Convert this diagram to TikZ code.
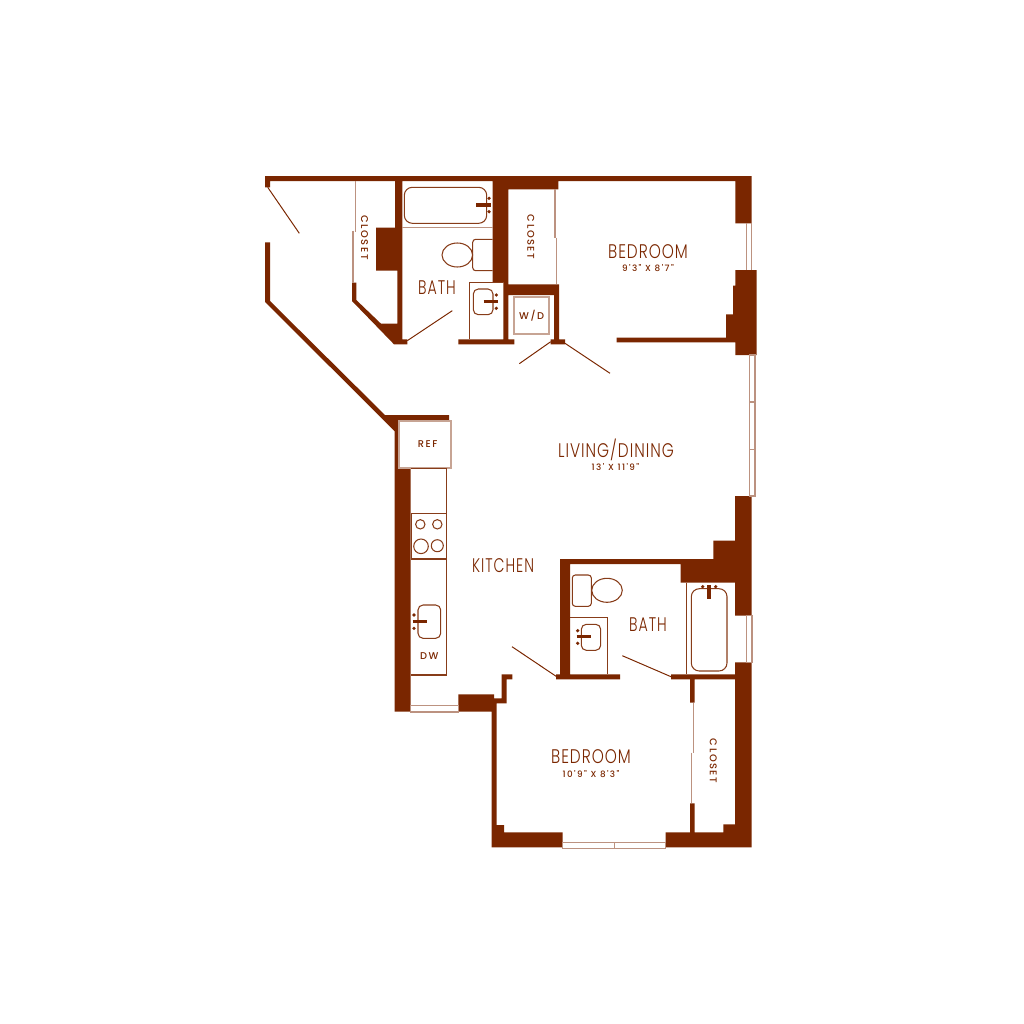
\documentclass[tikz,border=0pt]{standalone}
\usepackage{fontspec}
\newfontfamily\planfont[UprightFont=* Light,FakeStretch=0.78,LetterSpace=5]{Poppins}
\newfontfamily\narrowfont[UprightFont=* Light,FakeStretch=0.72,LetterSpace=5]{Poppins}
\newfontfamily\smallfont[UprightFont=* Medium,LetterSpace=16]{Poppins}
\definecolor{wallcolor}{HTML}{7A2600}
\tikzset{
  wall/.style={fill=wallcolor,draw=none},
  fixture/.style={draw=wallcolor!90,line width=0.3pt},
  pale/.style={draw=wallcolor!50,line width=0.42pt},
  door/.style={draw=wallcolor,line width=0.28pt},
  tap/.style={draw=wallcolor,line width=0.9pt},
  knob/.style={fill=wallcolor,draw=none,radius=1.8},
  roomlabel/.style={text=wallcolor,inner sep=0pt,font=\planfont\fontsize{5.6}{6}\selectfont},
  narrowlabel/.style={text=wallcolor,inner sep=0pt,font=\narrowfont\fontsize{5.6}{6}\selectfont},
  sizelabel/.style={text=wallcolor,inner sep=0pt,font=\smallfont\fontsize{2.5}{3}\selectfont},
  tinylabel/.style={text=wallcolor,inner sep=0pt,font=\smallfont\fontsize{2.8}{3}\selectfont},
}
\begin{document}
\begin{tikzpicture}[x=0.01cm,y=-0.01cm]
  \useasboundingbox (0,0) rectangle (1024,1024);
  % walls
  \fill[wall] (265,176) -- (751.7,176) -- (751.7,223.3) -- (735.3,223.3) -- (735.3,181) -- (558.3,181) -- (558.3,189.3) -- (508.3,189.3) -- (508.3,284.3) -- (559,284.3) -- (559,339.3) -- (565,339.3) -- (565,344.3) -- (550.7,344.3) -- (550.7,339.3) -- (554,339.3) -- (554,295) -- (508.3,295) -- (508.3,339.3) -- (514.3,339.3) -- (514.3,344.3) -- (458.3,344.3) -- (458.3,339.3) -- (503.3,339.3) -- (503.3,282.3) -- (492.7,282.3) -- (492.7,181) -- (402.3,181) -- (402.3,339.3) -- (407.3,339.3) -- (407.3,344.3) -- (394,344.3) -- (352,301) -- (352,282.7) -- (356.3,282.7) -- (356.3,300) -- (381,323.7) -- (397.3,323.7) -- (397.3,270.7) -- (376,270.7) -- (376,227.7) -- (395,227.7) -- (395,181) -- (270,181) -- (270,187.3) -- (265,187.3) -- cycle;
  % bedroom wall and pier
  \fill[wall] (735.3,270) -- (756.7,270) -- (756.7,355) -- (735.3,355) -- (735.3,342.3) -- (616.7,342.3) -- (616.7,337.7) -- (726,337.7) -- (726,314.3) -- (733,314.3) -- (733,285.7) -- (735.3,285.7) -- cycle;
  % diagonal and kitchen wall
  \fill[wall] (265,242.3) -- (270,242.3) -- (270,301) -- (385,415) -- (449,415) -- (449,420.7) -- (399.3,420.7) -- (399.3,468.3) -- (410.5,468.3) -- (410.5,711.7) -- (394.5,711.7) -- (394.5,431) -- (265,302) -- cycle;
  % lower bath and right wall
  \fill[wall] (560,559) -- (713.3,559) -- (713.3,540.7) -- (735,540.7) -- (735,496) -- (751.7,496) -- (751.7,615.7) -- (735,615.7) -- (735,582.7) -- (680.7,582.7) -- (680.7,564) -- (570,564) -- (570,674.3) -- (620,674.3) -- (620,679.3) -- (556,679.3) -- (556,674.3) -- (560,674.3) -- cycle;
  \fill[wall] (671,674.3) -- (735,674.3) -- (735,662.3) -- (751.7,662.3) -- (751.7,847.3) -- (665.7,847.3) -- (665.7,832.3) -- (690,832.3) -- (690,803.3) -- (694.7,803.3) -- (694.7,832.3) -- (723.3,832.3) -- (723.3,824.3) -- (735,824.3) -- (735,679.3) -- (694.7,679.3) -- (694.7,702.7) -- (690,702.7) -- (690,679.3) -- (671,679.3) -- cycle;
  % lower bedroom
  \fill[wall] (458.3,694.3) -- (494,694.3) -- (494,698.3) -- (501.7,698.3) -- (501.7,674.3) -- (512.3,674.3) -- (512.3,679.3) -- (506.7,679.3) -- (506.7,703.3) -- (496.5,703.3) -- (496.5,825) -- (504,825) -- (504,832.3) -- (562.7,832.3) -- (562.7,847.3) -- (491.7,847.3) -- (491.7,711.7) -- (458.3,711.7) -- cycle;
  % windows
  \draw[pale] (746.7,223.3) -- (746.7,270) (751.7,223.3) -- (751.7,270);
  \draw[pale] (749.3,355) rectangle (755,496) (749.3,402) -- (755,402) (749.3,449.3) -- (755,449.3);
  \draw[pale] (746.7,615.7) rectangle (752,662.3);
  \draw[pale] (562.7,842.3) rectangle (665.7,848.3) (614.3,842.3) -- (614.3,848.3);
  \draw[pale] (410.5,705.7) rectangle (458.3,712);
  % closet doors
  \draw[pale] (355.3,181) -- (355.3,231.5) (353,230.7) -- (353,282.7);
  \draw[pale] (555,189.3) -- (555,237.7) (556.7,237.7) -- (556.7,284.3);
  \draw[pale] (693.3,702.7) -- (693.3,752.7) (691.3,752.7) -- (691.3,803.3);
  % doors
  \draw[door] (267.7,187.3) -- (299.3,233.3);
  \draw[door] (407.3,340.7) -- (452.3,310.7);
  \draw[door] (550.7,341.7) -- (519.3,363.7);
  \draw[door] (565,343.3) -- (610,373.3);
  \draw[door] (556.7,676.7) -- (512,646.7);
  \draw[door] (671,676.7) -- (622.3,655.7);
  % upper bath
  \draw[fixture,rounded corners=0.08cm] (404.3,187.3) rectangle (486.7,223.3);
  \draw[pale] (402.3,227.7) -- (492.7,227.7);
  \draw[tap] (476,205) -- (490.7,205);
  \foreach \y in {198.3,211.7} \fill[knob] (489,\y) circle;
  \draw[fixture] (457.3,255) ellipse (15.3 and 12);
  \draw[fixture,rounded corners=0.03cm] (492.7,239.3) -- (472.7,239.3) -- (472.7,270.7) -- (492.7,270.7);
  \draw[fixture] (503.3,282.3) -- (469.3,282.3) -- (469.3,339.3);
  \draw[fixture,rounded corners=0.05cm] (473.3,289) rectangle (493,314.7);
  \draw[tap] (483.7,301.7) -- (497.7,301.7);
  \foreach \y in {295,308.3} \fill[knob] (496.3,\y) circle;
  % washer
  \draw[pale,draw=wallcolor!42,line width=0.5pt] (514.3,297.3) rectangle (549.3,334);
  % kitchen
  \draw[pale,draw=wallcolor!42,line width=0.5pt] (399.3,420.7) rectangle (450.7,468.3);
  \draw[fixture] (410.5,468.3) -- (446.5,468.3) -- (446.5,675) -- (410.5,675);
  \draw[fixture] (411.7,513.3) rectangle (446.5,559);
  \draw[fixture] (420.3,524.3) circle (4.7) (437.3,524.3) circle (4.7) (421,546.3) circle (7.3) (437.3,545.7) circle (6);
  \draw[fixture,rounded corners=0.05cm] (418,605) rectangle (440.7,638.3);
  \draw[tap] (412.7,621.7) -- (427.3,621.7);
  \foreach \y in {615,628.3} \fill[knob] (414,\y) circle;
  % lower bath
  \draw[fixture] (686.7,582.7) -- (686.7,674.3);
  \draw[fixture,rounded corners=0.08cm] (691.3,588.7) rectangle (727,671);
  \draw[tap] (709,585) -- (709,599.3);
  \foreach \x in {702.7,715.7} \fill[knob] (\x,586.7) circle;
  \draw[fixture] (607,590.3) ellipse (15.3 and 12);
  \draw[fixture,rounded corners=0.03cm] (572.3,575) -- (591.3,575) -- (591.3,606.3) -- (572.3,606.3) -- cycle;
  \draw[fixture] (570,617.7) -- (607.7,617.7) -- (607.7,674.3);
  \draw[fixture,rounded corners=0.05cm] (581.3,624.3) rectangle (600.7,650.3);
  \draw[tap] (576.7,636.7) -- (590.7,636.7);
  \foreach \y in {630.7,643.3} \fill[knob] (577.7,\y) circle;
  % labels
  \node[narrowlabel] (bathupper) at (437,287.7) {BATH};
  \node[roomlabel] (bedroomupper) at (648,252) {BEDROOM};
  \node[sizelabel] (sizeupper) at (648,268) {9'3" X 8'7"};
  \node[roomlabel] (living) at (616,450) {LIVING/DINING};
  \node[sizelabel] (sizeliving) at (615.5,467) {13' X 11'9"};
  \node[narrowlabel] (kitchen) at (503,566) {KITCHEN};
  \node[narrowlabel] (bathlower) at (648,625) {BATH};
  \node[roomlabel] (bedroomlower) at (591,757) {BEDROOM};
  \node[sizelabel] (sizelower) at (591,774) {10'9" X 8'3"};
  \node[tinylabel,rotate=-90] (closetleft) at (364.5,237.5) {CLOSET};
  \node[tinylabel,rotate=-90] (closetmid) at (530.7,237) {CLOSET};
  \node[tinylabel,rotate=-90] (closetright) at (713.3,761) {CLOSET};
  \node[tinylabel] (washer) at (531.7,316) {W/D};
  \node[tinylabel] (fridge) at (427.7,443.7) {REF};
  \node[tinylabel] (dishwasher) at (429.3,656) {DW};
\end{tikzpicture}
\end{document}
